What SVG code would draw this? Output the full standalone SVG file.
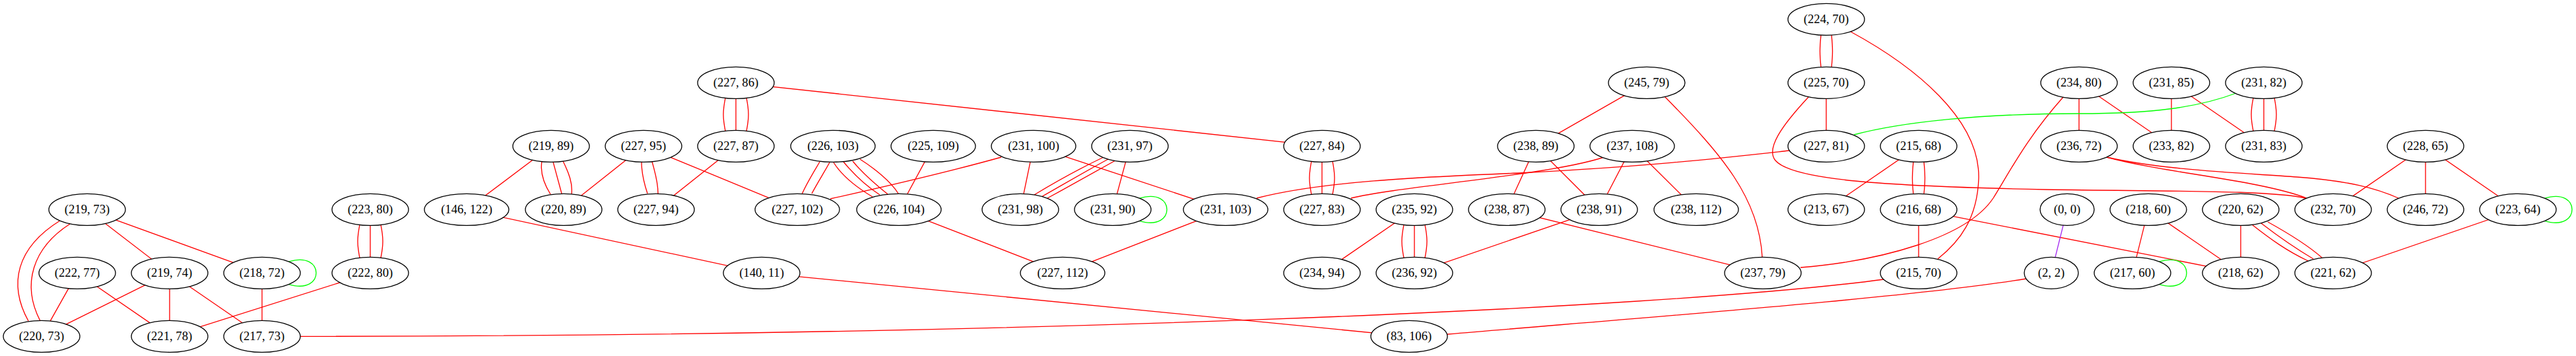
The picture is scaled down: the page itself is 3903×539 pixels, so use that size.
<svg xmlns="http://www.w3.org/2000/svg" width="3903" height="539" viewBox="0 0 3903 539">
<style>
.node ellipse{fill:#ffffff;stroke:#000000;stroke-width:1.33}
.node text{font-family:"Liberation Serif","Times New Roman",serif;font-size:18.67px;text-anchor:middle;fill:#000000}
.edges path{fill:none;stroke:#ff0000;stroke-width:1.33}
.edges path.g{stroke:#00ff00}
.edges path.p{stroke:#a020f0}
</style>
<rect width="3903" height="539" fill="#ffffff"/>
<g id="edges" class="edges">
<path d="M132,317.3 L257,413.3"/>
<path d="M132,317.3 L397,413.3"/>
<path d="M91,334 C25,375 12,430 43,486"/>
<path d="M106,339 C50,375 32,430 61,486"/>
<path d="M117,413.3 L63,509.3"/>
<path d="M117,413.3 L257,509.3"/>
<path d="M257,413.3 L63,509.3"/>
<path d="M257,413.3 L257,509.3"/>
<path d="M257,413.3 L397,509.3"/>
<path d="M397,413.3 L397,509.3"/>
<path class="g" d="M437,396.3 C467,387.3 479,401.3 479,413.3 C479,425.3 467,439.3 437,430.3"/>
<path d="M545,340.3 C541,360.3 541,370.3 545,390.3"/>
<path d="M561,341.3 L561,389.3"/>
<path d="M577,340.3 C581,360.3 581,370.3 577,390.3"/>
<path d="M561,413.3 L257,509.3"/>
<path d="M455,509.3 C1500,509 2500,470 2854,423"/>
<path d="M835,221.3 L707,317.3"/>
<path d="M821,244 C818,262 824,278 834,294"/>
<path d="M838,245 L851,293"/>
<path d="M853,244 C862,262 868,278 866,294"/>
<path d="M975,221.3 L854,317.3"/>
<path d="M972,245 C972,262 976,278 981,293"/>
<path d="M988,245 C993,262 997,278 997,293"/>
<path d="M975,221.3 L1208,317.3"/>
<path d="M1115,221.3 L994,317.3"/>
<path d="M1099,148.3 C1095,168.3 1095,178.3 1099,198.3"/>
<path d="M1115,149.3 L1115,197.3"/>
<path d="M1131,148.3 C1135,168.3 1135,178.3 1131,198.3"/>
<path d="M1115,125.3 L2003,221.3"/>
<path d="M707,317.3 L1154,413.3"/>
<path d="M1154,413.3 L2135,509.3"/>
<path d="M1242,245 C1232,262 1222,278 1215,294"/>
<path d="M1257,246 C1248,262 1238,278 1230,293"/>
<path d="M1263,246 C1275,265 1295,282 1322,298"/>
<path d="M1278,245 C1292,262 1310,280 1333,295"/>
<path d="M1292,244 C1305,260 1325,278 1345,294"/>
<path d="M1303,241 C1325,255 1350,275 1361,293"/>
<path d="M1414,221.3 L1362,317.3"/>
<path d="M1517,238 C1420,265 1330,285 1258,301"/>
<path d="M1566,221.3 L1546,317.3"/>
<path d="M1566,221.3 L1857,317.3"/>
<path d="M1672,238 C1630,258 1600,275 1567,295"/>
<path d="M1679,241 C1640,262 1610,280 1578,298"/>
<path d="M1690,243 C1650,265 1620,282 1587,300"/>
<path d="M1712,221.3 L1686,317.3"/>
<path class="g" d="M1726,300.3 C1756,291.3 1768,305.3 1768,317.3 C1768,329.3 1756,343.3 1726,334.3"/>
<path d="M1362,317.3 L1610,413.3"/>
<path d="M1857,317.3 L1610,413.3"/>
<path d="M1904,300 C2000,275 2150,268 2300,262 C2500,252 2620,238 2711,228"/>
<path d="M1987,244.3 C1983,264.3 1983,274.3 1987,294.3"/>
<path d="M2003,245.3 L2003,293.3"/>
<path d="M2019,244.3 C2023,264.3 2023,274.3 2019,294.3"/>
<path d="M2047,300 C2120,282 2350,265 2430,238"/>
<path d="M2003,413.3 L2143,317.3"/>
<path d="M2127,340.3 C2123,360.3 2123,370.3 2127,390.3"/>
<path d="M2143,341.3 L2143,389.3"/>
<path d="M2159,340.3 C2163,360.3 2163,370.3 2159,390.3"/>
<path d="M2423,317.3 L2143,413.3"/>
<path d="M2283,317.3 L2671,413.3"/>
<path d="M2495,125.3 L2327,221.3"/>
<path d="M2522,146 C2610,235 2665,300 2670,389"/>
<path d="M2327,221.3 L2283,317.3"/>
<path d="M2327,221.3 L2423,317.3"/>
<path d="M2473,221.3 L2423,317.3"/>
<path d="M2473,221.3 L2570,317.3"/>
<path d="M2759,53.1 C2757,73 2757,82 2759,101.5"/>
<path d="M2775,53.1 C2777,73 2777,82 2775,101.5"/>
<path d="M2804,48 C2900,100 3000,180 2998,270 C2996,330 2970,365 2936,392"/>
<path d="M2767,125.3 L2767,221.3"/>
<path d="M2740,147 C2700,190 2675,225 2690,243 C2715,272 2850,282 3100,287 C3300,290 3440,288 3493,300"/>
<path d="M2907,221.3 L2767,317.3"/>
<path d="M2899,245.1 C2897,265 2897,274 2899,293.5"/>
<path d="M2915,245.1 C2917,265 2917,274 2915,293.5"/>
<path d="M2907,317.3 L2907,413.3"/>
<path d="M2907,317.3 L3395,413.3"/>
<path d="M3126,147 C3070,210 3045,260 3020,300 C2980,360 2850,395 2728,405"/>
<path d="M3150,125.3 L3150,221.3"/>
<path d="M3150,125.3 L3290,221.3"/>
<path d="M3290,125.3 L3290,221.3"/>
<path d="M3290,125.3 L3430,221.3"/>
<path d="M3414,148.3 C3410,168.3 3410,178.3 3414,198.3"/>
<path d="M3430,149.3 L3430,197.3"/>
<path d="M3446,148.3 C3450,168.3 3450,178.3 3446,198.3"/>
<path class="g" d="M2809,204 C2880,185 3000,172 3150,172 C3260,172 3330,163 3388,141"/>
<path d="M3192,238 C3280,262 3420,272 3495,300"/>
<path d="M3192,238 C3280,258 3400,262 3480,268 C3560,274 3600,285 3634,300"/>
<path class="p" d="M3132,317.3 L3108,413.3"/>
<path d="M3070,422 C2900,450 2500,480 2193,506"/>
<path d="M3255,317.3 L3231,413.3"/>
<path d="M3255,317.3 L3395,413.3"/>
<path class="g" d="M3271,396.3 C3301,387.3 3313,401.3 3313,413.3 C3313,425.3 3301,439.3 3271,430.3"/>
<path d="M3395,317.3 L3395,413.3"/>
<path d="M3412,340 C3440,362 3465,380 3497,395"/>
<path d="M3426,338 C3452,358 3478,376 3505,392"/>
<path d="M3436,336 C3465,352 3495,370 3518,390"/>
<path d="M3675,221.3 L3535,317.3"/>
<path d="M3675,221.3 L3675,317.3"/>
<path d="M3675,221.3 L3815,317.3"/>
<path class="g" d="M3855,300.3 C3885,291.3 3897,305.3 3897,317.3 C3897,329.3 3885,343.3 3855,334.3"/>
<path d="M3815,317.3 L3535,413.3"/>
</g>
<g id="n1" class="node"><ellipse cx="132" cy="317.3" rx="58" ry="24"/><text x="132" y="323.3">(219, 73)</text></g>
<g id="n2" class="node"><ellipse cx="117" cy="413.3" rx="58" ry="24"/><text x="117" y="419.3">(222, 77)</text></g>
<g id="n3" class="node"><ellipse cx="257" cy="413.3" rx="58" ry="24"/><text x="257" y="419.3">(219, 74)</text></g>
<g id="n4" class="node"><ellipse cx="397" cy="413.3" rx="58" ry="24"/><text x="397" y="419.3">(218, 72)</text></g>
<g id="n5" class="node"><ellipse cx="63" cy="509.3" rx="58" ry="24"/><text x="63" y="515.3">(220, 73)</text></g>
<g id="n6" class="node"><ellipse cx="257" cy="509.3" rx="58" ry="24"/><text x="257" y="515.3">(221, 78)</text></g>
<g id="n7" class="node"><ellipse cx="397" cy="509.3" rx="58" ry="24"/><text x="397" y="515.3">(217, 73)</text></g>
<g id="n8" class="node"><ellipse cx="561" cy="317.3" rx="58" ry="24"/><text x="561" y="323.3">(223, 80)</text></g>
<g id="n9" class="node"><ellipse cx="561" cy="413.3" rx="58" ry="24"/><text x="561" y="419.3">(222, 80)</text></g>
<g id="n10" class="node"><ellipse cx="707" cy="317.3" rx="64" ry="24"/><text x="707" y="323.3">(146, 122)</text></g>
<g id="n11" class="node"><ellipse cx="1154" cy="413.3" rx="58" ry="24"/><text x="1154" y="419.3">(140, 11)</text></g>
<g id="n12" class="node"><ellipse cx="835" cy="221.3" rx="58" ry="24"/><text x="835" y="227.3">(219, 89)</text></g>
<g id="n13" class="node"><ellipse cx="854" cy="317.3" rx="58" ry="24"/><text x="854" y="323.3">(220, 89)</text></g>
<g id="n14" class="node"><ellipse cx="975" cy="221.3" rx="58" ry="24"/><text x="975" y="227.3">(227, 95)</text></g>
<g id="n15" class="node"><ellipse cx="994" cy="317.3" rx="58" ry="24"/><text x="994" y="323.3">(227, 94)</text></g>
<g id="n16" class="node"><ellipse cx="1115" cy="125.3" rx="58" ry="24"/><text x="1115" y="131.3">(227, 86)</text></g>
<g id="n17" class="node"><ellipse cx="1115" cy="221.3" rx="58" ry="24"/><text x="1115" y="227.3">(227, 87)</text></g>
<g id="n18" class="node"><ellipse cx="1262" cy="221.3" rx="64" ry="24"/><text x="1262" y="227.3">(226, 103)</text></g>
<g id="n19" class="node"><ellipse cx="1208" cy="317.3" rx="64" ry="24"/><text x="1208" y="323.3">(227, 102)</text></g>
<g id="n20" class="node"><ellipse cx="1362" cy="317.3" rx="64" ry="24"/><text x="1362" y="323.3">(226, 104)</text></g>
<g id="n21" class="node"><ellipse cx="1414" cy="221.3" rx="64" ry="24"/><text x="1414" y="227.3">(225, 109)</text></g>
<g id="n22" class="node"><ellipse cx="1566" cy="221.3" rx="64" ry="24"/><text x="1566" y="227.3">(231, 100)</text></g>
<g id="n23" class="node"><ellipse cx="1712" cy="221.3" rx="58" ry="24"/><text x="1712" y="227.3">(231, 97)</text></g>
<g id="n24" class="node"><ellipse cx="1546" cy="317.3" rx="58" ry="24"/><text x="1546" y="323.3">(231, 98)</text></g>
<g id="n25" class="node"><ellipse cx="1686" cy="317.3" rx="58" ry="24"/><text x="1686" y="323.3">(231, 90)</text></g>
<g id="n26" class="node"><ellipse cx="1857" cy="317.3" rx="64" ry="24"/><text x="1857" y="323.3">(231, 103)</text></g>
<g id="n27" class="node"><ellipse cx="1610" cy="413.3" rx="64" ry="24"/><text x="1610" y="419.3">(227, 112)</text></g>
<g id="n28" class="node"><ellipse cx="2003" cy="221.3" rx="58" ry="24"/><text x="2003" y="227.3">(227, 84)</text></g>
<g id="n29" class="node"><ellipse cx="2003" cy="317.3" rx="58" ry="24"/><text x="2003" y="323.3">(227, 83)</text></g>
<g id="n30" class="node"><ellipse cx="2003" cy="413.3" rx="58" ry="24"/><text x="2003" y="419.3">(234, 94)</text></g>
<g id="n31" class="node"><ellipse cx="2135" cy="509.3" rx="58" ry="24"/><text x="2135" y="515.3">(83, 106)</text></g>
<g id="n32" class="node"><ellipse cx="2143" cy="317.3" rx="58" ry="24"/><text x="2143" y="323.3">(235, 92)</text></g>
<g id="n33" class="node"><ellipse cx="2143" cy="413.3" rx="58" ry="24"/><text x="2143" y="419.3">(236, 92)</text></g>
<g id="n34" class="node"><ellipse cx="2327" cy="221.3" rx="58" ry="24"/><text x="2327" y="227.3">(238, 89)</text></g>
<g id="n35" class="node"><ellipse cx="2473" cy="221.3" rx="64" ry="24"/><text x="2473" y="227.3">(237, 108)</text></g>
<g id="n36" class="node"><ellipse cx="2283" cy="317.3" rx="58" ry="24"/><text x="2283" y="323.3">(238, 87)</text></g>
<g id="n37" class="node"><ellipse cx="2423" cy="317.3" rx="58" ry="24"/><text x="2423" y="323.3">(238, 91)</text></g>
<g id="n38" class="node"><ellipse cx="2570" cy="317.3" rx="64" ry="24"/><text x="2570" y="323.3">(238, 112)</text></g>
<g id="n39" class="node"><ellipse cx="2495" cy="125.3" rx="58" ry="24"/><text x="2495" y="131.3">(245, 79)</text></g>
<g id="n40" class="node"><ellipse cx="2671" cy="413.3" rx="58" ry="24"/><text x="2671" y="419.3">(237, 79)</text></g>
<g id="n41" class="node"><ellipse cx="2767" cy="29.3" rx="58" ry="24"/><text x="2767" y="35.3">(224, 70)</text></g>
<g id="n42" class="node"><ellipse cx="2767" cy="125.3" rx="58" ry="24"/><text x="2767" y="131.3">(225, 70)</text></g>
<g id="n43" class="node"><ellipse cx="2767" cy="221.3" rx="58" ry="24"/><text x="2767" y="227.3">(227, 81)</text></g>
<g id="n44" class="node"><ellipse cx="2767" cy="317.3" rx="58" ry="24"/><text x="2767" y="323.3">(213, 67)</text></g>
<g id="n45" class="node"><ellipse cx="2907" cy="221.3" rx="58" ry="24"/><text x="2907" y="227.3">(215, 68)</text></g>
<g id="n46" class="node"><ellipse cx="2907" cy="317.3" rx="58" ry="24"/><text x="2907" y="323.3">(216, 68)</text></g>
<g id="n47" class="node"><ellipse cx="2907" cy="413.3" rx="58" ry="24"/><text x="2907" y="419.3">(215, 70)</text></g>
<g id="n48" class="node"><ellipse cx="3150" cy="125.3" rx="58" ry="24"/><text x="3150" y="131.3">(234, 80)</text></g>
<g id="n49" class="node"><ellipse cx="3150" cy="221.3" rx="58" ry="24"/><text x="3150" y="227.3">(236, 72)</text></g>
<g id="n50" class="node"><ellipse cx="3290" cy="125.3" rx="58" ry="24"/><text x="3290" y="131.3">(231, 85)</text></g>
<g id="n51" class="node"><ellipse cx="3290" cy="221.3" rx="58" ry="24"/><text x="3290" y="227.3">(233, 82)</text></g>
<g id="n52" class="node"><ellipse cx="3430" cy="125.3" rx="58" ry="24"/><text x="3430" y="131.3">(231, 82)</text></g>
<g id="n53" class="node"><ellipse cx="3430" cy="221.3" rx="58" ry="24"/><text x="3430" y="227.3">(231, 83)</text></g>
<g id="n54" class="node"><ellipse cx="3132" cy="317.3" rx="41" ry="24"/><text x="3132" y="323.3">(0, 0)</text></g>
<g id="n55" class="node"><ellipse cx="3108" cy="413.3" rx="41" ry="24"/><text x="3108" y="419.3">(2, 2)</text></g>
<g id="n56" class="node"><ellipse cx="3255" cy="317.3" rx="58" ry="24"/><text x="3255" y="323.3">(218, 60)</text></g>
<g id="n57" class="node"><ellipse cx="3231" cy="413.3" rx="58" ry="24"/><text x="3231" y="419.3">(217, 60)</text></g>
<g id="n58" class="node"><ellipse cx="3395" cy="317.3" rx="58" ry="24"/><text x="3395" y="323.3">(220, 62)</text></g>
<g id="n59" class="node"><ellipse cx="3395" cy="413.3" rx="58" ry="24"/><text x="3395" y="419.3">(218, 62)</text></g>
<g id="n60" class="node"><ellipse cx="3535" cy="317.3" rx="58" ry="24"/><text x="3535" y="323.3">(232, 70)</text></g>
<g id="n61" class="node"><ellipse cx="3535" cy="413.3" rx="58" ry="24"/><text x="3535" y="419.3">(221, 62)</text></g>
<g id="n62" class="node"><ellipse cx="3675" cy="221.3" rx="58" ry="24"/><text x="3675" y="227.3">(228, 65)</text></g>
<g id="n63" class="node"><ellipse cx="3675" cy="317.3" rx="58" ry="24"/><text x="3675" y="323.3">(246, 72)</text></g>
<g id="n64" class="node"><ellipse cx="3815" cy="317.3" rx="58" ry="24"/><text x="3815" y="323.3">(223, 64)</text></g>
</svg>
